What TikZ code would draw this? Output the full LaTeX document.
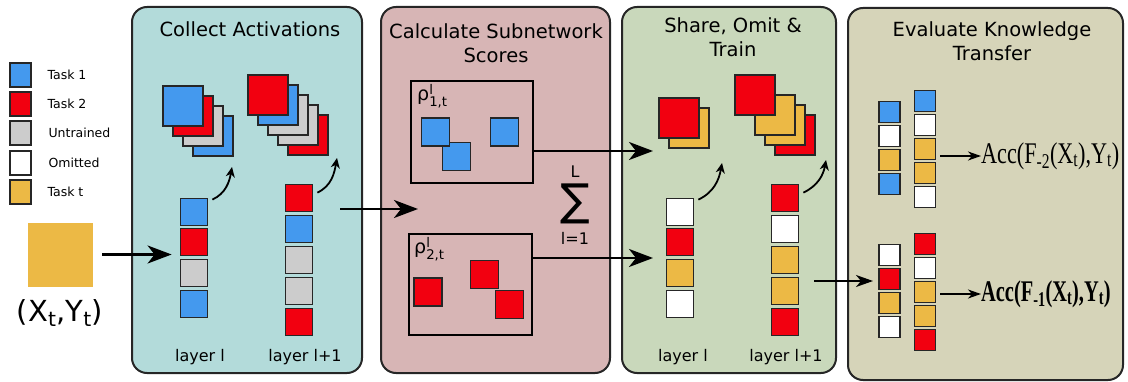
\documentclass[tikz,border=0pt]{standalone}
\usepackage{amsmath}
\usepackage{graphicx}
\usepackage{fontspec}
\setmainfont{DejaVu Sans}
\newfontfamily\accfont{Liberation Serif}
\usetikzlibrary{arrows.meta}
\usetikzlibrary{shapes}
\definecolor{taskblue}{HTML}{4499EE}
\definecolor{taskred}{HTML}{F20010}
\definecolor{taskgray}{HTML}{CCCCCC}
\definecolor{taskgold}{HTML}{ECB945}
\definecolor{bgact}{HTML}{B3DBDA}
\definecolor{bgscore}{HTML}{D7B5B5}
\definecolor{bgtrain}{HTML}{C9D8BB}
\definecolor{bgeval}{HTML}{D6D4B9}
\tikzstyle{panel}=[draw=black!85,line width=2pt,rounded corners=15pt,inner sep=0pt]
\tikzstyle{cell}=[draw=black!85,line width=1.8pt,inner sep=0pt,minimum size=27pt]
\tikzstyle{act}=[cell,minimum size=40pt]
\tikzstyle{mid}=[cell,minimum size=28pt]
\tikzstyle{bit}=[cell,line width=1.5pt,minimum size=21pt]
\tikzstyle{key}=[cell,minimum width=21pt,minimum height=24pt]
\tikzstyle{box}=[draw=black,line width=2pt,inner sep=0pt]
\tikzstyle{task1}=[fill=taskblue]
\tikzstyle{task2}=[fill=taskred]
\tikzstyle{untrained}=[fill=taskgray]
\tikzstyle{omitted}=[fill=white]
\tikzstyle{taskt}=[fill=taskgold]
\tikzstyle{title}=[font=\fontsize{19.5pt}{23.5pt}\selectfont,align=center]
\tikzstyle{lbl}=[font=\fontsize{16pt}{19pt}\selectfont]
\tikzstyle{keylbl}=[font=\fontsize{12.5pt}{15pt}\selectfont,anchor=west]
\tikzstyle{rho}=[font=\fontsize{19pt}{22pt}\selectfont,anchor=north west,inner sep=0pt]
\tikzstyle{arrow}=[line width=2.6pt,-{Stealth[length=24pt,width=18pt,inset=7pt]}]
\tikzstyle{thinarrow}=[line width=1.8pt,-{Stealth[length=17pt,width=12pt,inset=5pt]}]
\tikzstyle{accarrow}=[line width=1.6pt,-{Stealth[length=13pt,width=9pt,inset=4pt]}]
\tikzstyle{curvy}=[line width=1.8pt,-{Stealth[length=10pt,width=9pt,inset=3pt]}]

\begin{document}
\begin{tikzpicture}[x=1pt,y=1pt]
      \useasboundingbox (0,0) rectangle (1128,-382);
      % legend
      \node[key, task1] at (20.5,-75) (k1) {};
      \node[key, task2] at (20.5,-104) (k2) {};
      \node[key, untrained] at (20.5,-133) (k3) {};
      \node[key, omitted] at (20.5,-163) (k4) {};
      \node[key, taskt] at (20.5,-192) (k5) {};
      \node[keylbl] at (44,-75) (k1l) {Task 1};
      \node[keylbl] at (44,-104) (k2l) {Task 2};
      \node[keylbl] at (45,-133) (k3l) {Untrained};
      \node[keylbl] at (45,-163) (k4l) {Omitted};
      \node[keylbl] at (44,-192) (k5l) {Task t};
      % input
      \node[fill=taskgold, draw=taskgold, inner sep=0pt, minimum width=64pt, minimum height=63pt] at (60,-254.5) (in) {};
      \node[font=\fontsize{29pt}{34pt}\selectfont] at (60,-313) (inlbl) {(X\textsubscript{t},Y\textsubscript{t})};
      % panels
      \node[panel, fill=bgact, minimum width=230pt, minimum height=366pt] at (247,-190) (p1) {};
      \node[panel, fill=bgscore, minimum width=229pt, minimum height=366pt] at (495.5,-190) (p2) {};
      \node[panel, fill=bgtrain, minimum width=214pt, minimum height=366pt] at (729,-190) (p3) {};
      \node[panel, fill=bgeval, minimum width=275pt, minimum height=372pt] at (985.5,-194) (p4) {};
      \node[title] at (250,-29) (t1) {Collect Activations};
      \node[title] at (496,-43) (t2) {Calculate Subnetwork\\Scores};
      \node[title] at (733,-37) (t3) {Share, Omit \&\\Train};
      \node[title] at (992,-41) (t4) {Evaluate Knowledge\\Transfer};
      % collect activations
      \node[cell, task1] at (194,-212) (c1a) {};
      \node[cell, task2] at (194,-242) (c1b) {};
      \node[cell, untrained] at (194,-273) (c1c) {};
      \node[cell, task1] at (194,-304) (c1d) {};
      \node[cell, task2] at (299,-198) (c2a) {};
      \node[cell, task1] at (299,-229) (c2b) {};
      \node[cell, untrained] at (299,-260) (c2c) {};
      \node[cell, untrained] at (299,-291) (c2d) {};
      \node[cell, task2] at (299,-322) (c2e) {};
      \node[act, task1] at (213,-136) (s1d) {};
      \node[act, untrained] at (203,-126) (s1c) {};
      \node[act, task2] at (193,-116) (s1b) {};
      \node[act, task1] at (183,-106) (s1a) {};
      \node[act, task2] at (308,-135) (s2e) {};
      \node[act, untrained] at (298,-125) (s2d) {};
      \node[act, untrained] at (288,-115) (s2c) {};
      \node[act, task1] at (278,-105) (s2b) {};
      \node[act, task2] at (268,-95) (s2a) {};
      \node[lbl] at (200,-357) (l1) {layer l};
      \node[lbl] at (305,-357) (l2) {layer l+1};
      \coordinate (q1) at (232,-167);
      \coordinate (q2) at (337,-158);
      \draw[curvy] ([shift={(4,-2)}]c1a.north east) to[out=25,in=-100] (q1);
      \draw[curvy] ([shift={(4,-9)}]c2a.north east) to[out=25,in=-100] (q2);
      \draw[arrow, shorten <=10pt, shorten >=8pt] (in.east) -- (in.east -| c1b.west);
      % subnetwork scores
      \node[box, minimum width=122pt, minimum height=102pt] at (472,-132) (box1) {};
      \node[box, minimum width=123pt, minimum height=101pt] at (470.5,-284.5) (box2) {};
      \node[rho] at (417,-84) (r1) {$\text{ρ}^{\text{l}}_{\text{1,t}}$};
      \node[rho] at (414,-237) (r2) {$\text{ρ}^{\text{l}}_{\text{2,t}}$};
      \node[mid, task1] at (456.5,-156.5) (b1b) {};
      \node[mid, task1] at (435.5,-132) (b1a) {};
      \node[mid, task1] at (504.5,-132) (b1c) {};
      \node[mid, task2] at (428,-292) (b2a) {};
      \node[mid, task2] at (509.5,-304.5) (b2c) {};
      \node[mid, task2] at (484.5,-274.5) (b2b) {};
      \node[font=\fontsize{44pt}{44pt}\selectfont] at (575,-204) (sum) {∑};
      \node[lbl] at (575,-172) (sumtop) {L};
      \node[lbl] at (575,-238) (sumbot) {l=1};
      \coordinate (h0) at (418,-209);
      \coordinate (h1) at (653,-151);
      \coordinate (h2) at (653,-258);
      \draw[arrow, shorten <=27pt] (c2a.east |- h0) -- (h0);
      \draw[arrow] (box1.east |- h1) -- (h1);
      \draw[arrow] (box2.east |- h2) -- (h2);
      % share, omit and train
      \node[cell, omitted] at (680,-212) (c3a) {};
      \node[cell, task2] at (680,-242) (c3b) {};
      \node[cell, taskt] at (680,-273) (c3c) {};
      \node[cell, omitted] at (680,-304) (c3d) {};
      \node[cell, task2] at (785,-198) (c4a) {};
      \node[cell, omitted] at (785,-229) (c4b) {};
      \node[cell, taskt] at (785,-260) (c4c) {};
      \node[cell, taskt] at (785,-291) (c4d) {};
      \node[cell, task2] at (785,-322) (c4e) {};
      \node[act, taskt] at (689,-128) (s3c) {};
      \node[act, task2] at (679,-118) (s3b) {};
      \node[act, task2] at (795,-135) (s4e) {};
      \node[act, taskt] at (785,-125) (s4d) {};
      \node[act, taskt] at (775,-115) (s4c) {};
      \node[act, task2] at (755,-95) (s4a) {};
      \node[lbl] at (683,-357) (l3) {layer l};
      \node[lbl] at (786,-357) (l4) {layer l+1};
      \coordinate (q3) at (722,-163);
      \coordinate (q4) at (826,-160);
      \draw[curvy] ([shift={(4,-2)}]c3a.north east) to[out=25,in=-100] (q3);
      \draw[curvy] ([shift={(4,-9)}]c4a.north east) to[out=25,in=-100] (q4);
      \coordinate (h3) at (873,-281);
      \draw[thinarrow, shorten <=15pt] (c4d.east |- h3) -- (h3);
      % knowledge transfer
      \node[bit, task1] at (889.5,-112) (e1a) {};
      \node[bit, omitted] at (889.5,-136) (e1b) {};
      \node[bit, taskt] at (889.5,-160) (e1c) {};
      \node[bit, task1] at (889.5,-184) (e1d) {};
      \node[bit, task1] at (925,-101) (e2a) {};
      \node[bit, omitted] at (925,-125) (e2b) {};
      \node[bit, taskt] at (925,-149) (e2c) {};
      \node[bit, taskt] at (925,-173) (e2d) {};
      \node[bit, omitted] at (925,-197) (e2e) {};
      \node[bit, omitted] at (889.5,-255) (f1a) {};
      \node[bit, task2] at (889.5,-279) (f1b) {};
      \node[bit, taskt] at (889.5,-303) (f1c) {};
      \node[bit, omitted] at (889.5,-327) (f1d) {};
      \node[bit, task2] at (925,-244) (f2a) {};
      \node[bit, omitted] at (925,-268) (f2b) {};
      \node[bit, taskt] at (925,-292) (f2c) {};
      \node[bit, taskt] at (925,-316) (f2d) {};
      \node[bit, task2] at (925,-340) (f2e) {};
      \node[anchor=west, inner sep=0pt] at (981,-156) (acc1) {\accfont\fontsize{30pt}{34pt}\selectfont\scalebox{0.74}[1]{Acc(F\textsubscript{-2}(X\textsubscript{t}),Y\textsubscript{t})}};
      \node[anchor=west, inner sep=0pt] at (981,-294) (acc2) {\accfont\bfseries\fontsize{30pt}{34pt}\selectfont\scalebox{0.68}[1]{Acc(F\textsubscript{-1}(X\textsubscript{t}),Y\textsubscript{t})}};
      \draw[accarrow, shorten <=4pt] (acc1.west -| e2c.east) -- (acc1.west);
      \draw[accarrow, shorten <=4pt] (acc2.west -| f2c.east) -- (acc2.west);
    \end{tikzpicture}
\end{document}
